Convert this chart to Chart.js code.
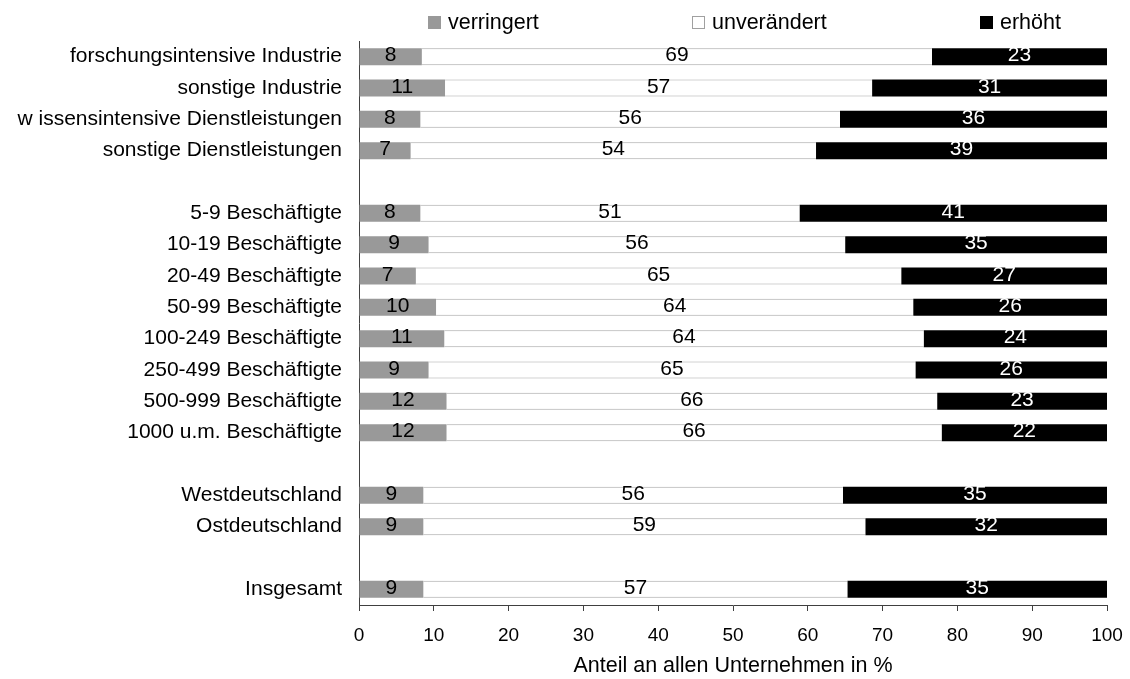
<!DOCTYPE html>
<html>
<head>
<meta charset="utf-8">
<script src="https://cdn.jsdelivr.net/npm/chart.js@4.4.1/dist/chart.umd.min.js"></script>
<style>
    html, body { margin: 0; padding: 0; background: #fff; }
    #wrap { width: 1130px; height: 679px; }
</style>
</head>
<body>
<div id="wrap"><canvas id="barChart"></canvas></div>
<script>
// categories, empty strings are the gaps between the groups
const categories = [
    'forschungsintensive Industrie', 'sonstige Industrie', 'w issensintensive Dienstleistungen', 'sonstige Dienstleistungen',
    '',
    '5-9 Beschäftigte', '10-19 Beschäftigte', '20-49 Beschäftigte', '50-99 Beschäftigte',
    '100-249 Beschäftigte', '250-499 Beschäftigte', '500-999 Beschäftigte', '1000 u.m. Beschäftigte',
    '',
    'Westdeutschland', 'Ostdeutschland',
    '',
    'Insgesamt'
];

const seriesNames = ['verringert', 'unverändert', 'erhöht'];

// bar lengths (share in %)
const verringert   = [8.4, 11.5, 8.2, 6.9, null, 8.2, 9.3, 7.6, 10.3, 11.4, 9.3, 11.7, 11.7, null, 8.6, 8.6, null, 8.6];
const unveraendert = [68.2, 57.1, 56.1, 54.2, null, 50.7, 55.7, 64.9, 63.8, 64.1, 65.1, 65.6, 66.2, null, 56.1, 59.1, null, 56.7];
const erhoeht      = [23.4, 31.4, 35.7, 38.9, null, 41.1, 35.0, 27.5, 25.9, 24.5, 25.6, 22.7, 22.1, null, 35.3, 32.3, null, 34.7];

// printed value labels
const verringertLabels   = [8, 11, 8, 7, null, 8, 9, 7, 10, 11, 9, 12, 12, null, 9, 9, null, 9];
const unveraendertLabels = [69, 57, 56, 54, null, 51, 56, 65, 64, 64, 65, 66, 66, null, 56, 59, null, 57];
const erhoehtLabels      = [23, 31, 36, 39, null, 41, 35, 27, 26, 24, 26, 23, 22, null, 35, 32, null, 35];

const xTicks = [0, 10, 20, 30, 40, 50, 60, 70, 80, 90, 100];
const axisTitle = 'Anteil an allen Unternehmen in %';

const FONT = '"Liberation Sans", Arial, sans-serif';

// value labels inside the segments
const valueLabels = {
    id: 'valueLabels',
    afterDatasetsDraw(chart) {
        const ctx = chart.ctx;
        ctx.save();
        ctx.font = '21px ' + FONT;
        ctx.textAlign = 'center';
        ctx.textBaseline = 'middle';
        chart.data.datasets.forEach((ds, i) => {
            const meta = chart.getDatasetMeta(i);
            meta.data.forEach((bar, j) => {
                const txt = ds.valueLabels[j];
                if (txt === null || txt === undefined) return;
                ctx.fillStyle = ds.labelColor;
                ctx.fillText(String(txt), (bar.x + bar.base) / 2, bar.y - 1);
            });
        });
        ctx.restore();
    }
};

// legend spread over the top, like the original
const topLegend = {
    id: 'topLegend',
    afterDraw(chart) {
        const ctx = chart.ctx;
        const area = chart.chartArea;
        const offsets = [69, 333, 621];
        ctx.save();
        ctx.font = '21.5px ' + FONT;
        ctx.textBaseline = 'middle';
        ctx.textAlign = 'left';
        chart.data.datasets.forEach((ds, i) => {
            const x = area.left + offsets[i];
            ctx.fillStyle = ds.backgroundColor;
            ctx.fillRect(x, 16, 13, 13);
            if (ds.backgroundColor === '#ffffff') {
                ctx.strokeStyle = '#a0a0a0';
                ctx.lineWidth = 1;
                ctx.strokeRect(x + 0.5, 16.5, 12, 12);
            }
            ctx.fillStyle = '#000';
            ctx.fillText(ds.label, x + 20, 23);
        });
        ctx.restore();
    }
};

const ctx = document.getElementById('barChart');
new Chart(ctx, {
    type: 'bar',
    data: {
        labels: categories,
        datasets: [
            {
                label: seriesNames[0],
                data: verringert,
                valueLabels: verringertLabels,
                labelColor: '#000',
                backgroundColor: '#999999',
                borderWidth: 0
            },
            {
                label: seriesNames[1],
                data: unveraendert,
                valueLabels: unveraendertLabels,
                labelColor: '#000',
                backgroundColor: '#ffffff',
                borderColor: '#a6a6a6',
                borderWidth: { top: 1, bottom: 1, left: 0, right: 0 },
                borderSkipped: false
            },
            {
                label: seriesNames[2],
                data: erhoeht,
                valueLabels: erhoehtLabels,
                labelColor: '#fff',
                backgroundColor: '#000000',
                borderWidth: 0
            }
        ]
    },
    options: {
        indexAxis: 'y',
        responsive: true,
        maintainAspectRatio: false,
        animation: false,
        categoryPercentage: 1,
        barPercentage: 0.54,
        layout: {
            padding: { top: 41, right: 23, left: 0, bottom: 0 }
        },
        plugins: {
            legend: { display: false },
            tooltip: { enabled: false }
        },
        scales: {
            x: {
                stacked: true,
                min: 0,
                max: 100,
                afterBuildTicks: scale => { scale.ticks = xTicks.map(v => ({ value: v })); },
                afterFit: scale => {
                    scale.height = 74;
                    scale.paddingRight = 0;
                    scale.paddingLeft = 0;
                },
                grid: {
                    drawOnChartArea: false,
                    drawTicks: true,
                    tickLength: 6,
                    color: '#404040'
                },
                border: { display: true, color: '#404040', width: 1 },
                ticks: {
                    color: '#000',
                    padding: 13,
                    font: { family: FONT, size: 19 }
                },
                title: {
                    display: true,
                    text: axisTitle,
                    color: '#000',
                    padding: { top: 0, bottom: 0 },
                    font: { family: FONT, size: 21.5 }
                }
            },
            y: {
                stacked: true,
                afterFit: scale => { scale.width = 359; },
                grid: { display: false, drawTicks: false },
                border: { display: true, color: '#404040', width: 1 },
                ticks: {
                    color: '#000',
                    padding: 17,
                    autoSkip: false,
                    font: { family: FONT, size: 21 }
                }
            }
        }
    },
    plugins: [valueLabels, topLegend]
});
</script>
</body>
</html>
